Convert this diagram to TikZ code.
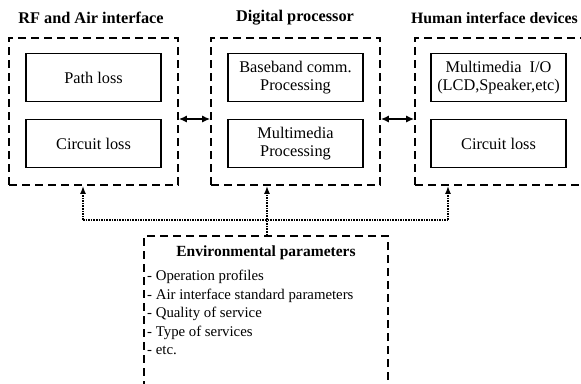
\documentclass[tikz,border=0pt]{standalone}
\usepackage{fontspec}
\setmainfont{Liberation Serif}
\usetikzlibrary{calc,arrows.meta}
\tikzset{
  group/.style={draw,line width=1.8pt,dash pattern=on 8pt off 5pt,inner sep=0pt,
    minimum width=169pt,minimum height=147pt},
  part/.style={draw,line width=1.2pt,inner sep=0pt,minimum width=135pt,minimum height=48pt,
    align=center,font=\fontsize{16.3}{18.5}\selectfont},
  head/.style={inner sep=0pt,font=\fontsize{16.3}{19}\selectfont\bfseries},
  tip/.style={line width=1.2pt,{Latex[length=8pt,width=7pt]}-{Latex[length=8pt,width=7pt]}},
  link/.style={line width=1.6pt,densely dotted,-{Latex[length=8pt,width=6pt]}},
}
\begin{document}
\begin{tikzpicture}[x=1pt,y=-1pt]
\useasboundingbox (0,0) rectangle (581,383);
\clip (0,0) rectangle (581,383);
\fill[white] (0,0) rectangle (581,383);

% the three blocks
\node[group] (rf) at (93.5,111.5) {};
\node[group] (dp) at (295.5,111.5) {};
\node[group] (hi) at (499.5,111.5) {};
\node[head] at (91,18) {RF and Air interface};
\node[head] at (295,18) {Digital processor};
\node[head,font=\fontsize{15.8}{19}\selectfont\bfseries] at (494.5,18) {Human interface devices};

\node[part] (pl) at (93.5,77.5) {Path loss};
\node[part] (cl) at (93.5,143.5) {Circuit loss};
\node[part] (bb) at (295.5,77.5) {Baseband comm.\\Processing};
\node[part] (mm) at (295.5,143.5) {Multimedia\\Processing};
\node[part] (io) at (498.5,77.5) {Multimedia\ \ I/O\\(LCD,Speaker,etc)};
\node[part] (hc) at (498.5,143.5) {Circuit loss};

\draw[tip] (rf.east |- 0,119) -- (dp.west |- 0,119);
\draw[tip] (dp.east |- 0,119) -- (hi.west |- 0,119);

% environment box
\node[group,minimum width=244pt,minimum height=160pt] (env) at (266,316) {};
\node[head,font=\fontsize{15.5}{18}\selectfont\bfseries] at (266,253) {Environmental parameters};
\node[anchor=north west,inner sep=0pt,align=left,font=\fontsize{14.8}{18.5}\selectfont]
  (lst) at (147,270) {- Operation profiles\\- Air interface standard parameters\\- Quality of service\\- Type of services\\- etc.};

\coordinate (ja) at (83,220);
\coordinate (jb) at (267,220);
\coordinate (jc) at (448,220);
\draw[line width=1.6pt,densely dotted] (ja) -- (jc);
\draw[link] (jb |- env.north) -- (jb |- dp.south);
\draw[link] (ja) -- (ja |- rf.south);
\draw[link] (jc) -- (jc |- hi.south);
\end{tikzpicture}
\end{document}
